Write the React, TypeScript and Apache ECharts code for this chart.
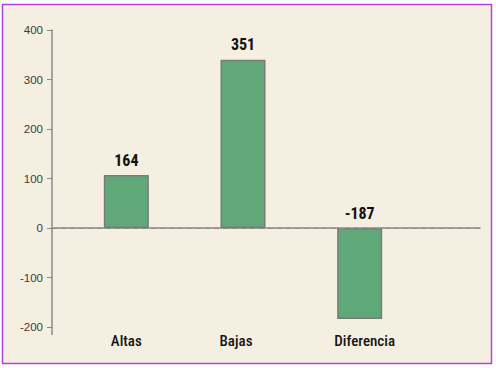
import React, { useEffect, useRef } from "react";
import * as echarts from "echarts";

const categories = ["Altas", "Bajas", "Diferencia"];
const barValues = [107, 340, -184];
const valueLabels = ["164", "351", "-187"];
const yMin = -200;
const yMax = 400;
const yInterval = 100;

const condensed = "'Roboto Condensed', 'DejaVu Sans Condensed', sans-serif";
const catStyle = { fontFamily: condensed, fontSize: 15, fontWeight: 500, color: "#141414" };

export default function App() {
  const ref = useRef<HTMLDivElement>(null);
  useEffect(() => {
    if (!ref.current) return;
    const chart = echarts.init(ref.current, null, { renderer: "svg" });
    chart.setOption({
      animation: false,
      backgroundColor: "#ffffff",
      graphic: [
        {
          type: "rect",
          z: -10,
          silent: true,
          shape: { x: 2.5, y: 4.5, width: 489, height: 359 },
          style: { fill: "#F5EFE2", stroke: "#B344D8", lineWidth: 1.5 },
        },
        {
          type: "line",
          z: 5,
          shape: { x1: 52, y1: 327, x2: 52, y2: 335 },
          style: { stroke: "#8a8a8a", lineWidth: 1.5 },
        },
      ],
      grid: [
        { left: 52, right: 16, top: 30, bottom: 41 },
        { left: 68, right: 78, top: 30, bottom: 41 },
      ],
      xAxis: [
        {
          type: "category",
          gridIndex: 0,
          data: [""],
          axisLine: { show: true, lineStyle: { color: "#8a8a8a", width: 1.5 } },
          axisTick: { show: false },
          axisLabel: { show: false },
        },
        {
          type: "category",
          gridIndex: 1,
          data: categories,
          axisLine: { show: false },
          axisTick: { show: false },
          axisLabel: {
            margin: 6,
            ...catStyle,
            formatter: (v: string) => {
              if (v === categories[1]) return "{l|" + v + "}";
              if (v === categories[2]) return "{r|" + v + "}";
              return "{n|" + v + "}";
            },
            rich: {
              n: { ...catStyle },
              l: { ...catStyle, padding: [0, 14, 0, 0] },
              r: { ...catStyle, padding: [0, 0, 0, 10] },
            },
          },
        },
      ],
      yAxis: [
        {
          type: "value",
          gridIndex: 0,
          min: yMin,
          max: yMax,
          interval: yInterval,
          axisLine: { show: true, lineStyle: { color: "#8a8a8a", width: 1.5 } },
          axisTick: { show: true, length: 5, lineStyle: { color: "#8a8a8a" } },
          axisLabel: {
            margin: 9,
            fontFamily: "'Liberation Sans', Arial, sans-serif",
            fontSize: 11.5,
            color: "#3a3a3a",
          },
          splitLine: { show: false },
        },
        {
          type: "value",
          gridIndex: 1,
          min: yMin,
          max: yMax,
          interval: yInterval,
          show: false,
          splitLine: { show: false },
        },
      ],
      series: [
        {
          type: "line",
          xAxisIndex: 0,
          yAxisIndex: 0,
          data: [],
          markLine: {
            silent: true,
            symbol: "none",
            label: { show: false },
            lineStyle: { color: "#8a8a8a", type: [5, 4], width: 1.2 },
            data: [{ yAxis: 0 }],
          },
        },
        {
          type: "bar",
          xAxisIndex: 1,
          yAxisIndex: 1,
          barWidth: 45,
          z: 3,
          itemStyle: { color: "#5FA978", borderColor: "#7a7a7a", borderWidth: 1.5 },
          label: {
            show: true,
            position: "top",
            distance: 7,
            fontFamily: condensed,
            fontSize: 16,
            fontWeight: "bold",
            color: "#111",
            formatter: (p: any) => valueLabels[p.dataIndex],
          },
          data: barValues,
        },
      ],
    });
    return () => chart.dispose();
  }, []);
  return (
    <div
      ref={ref}
      style={{ position: "absolute", left: 0, top: 0, width: 496, height: 368 }}
    />
  );
}
